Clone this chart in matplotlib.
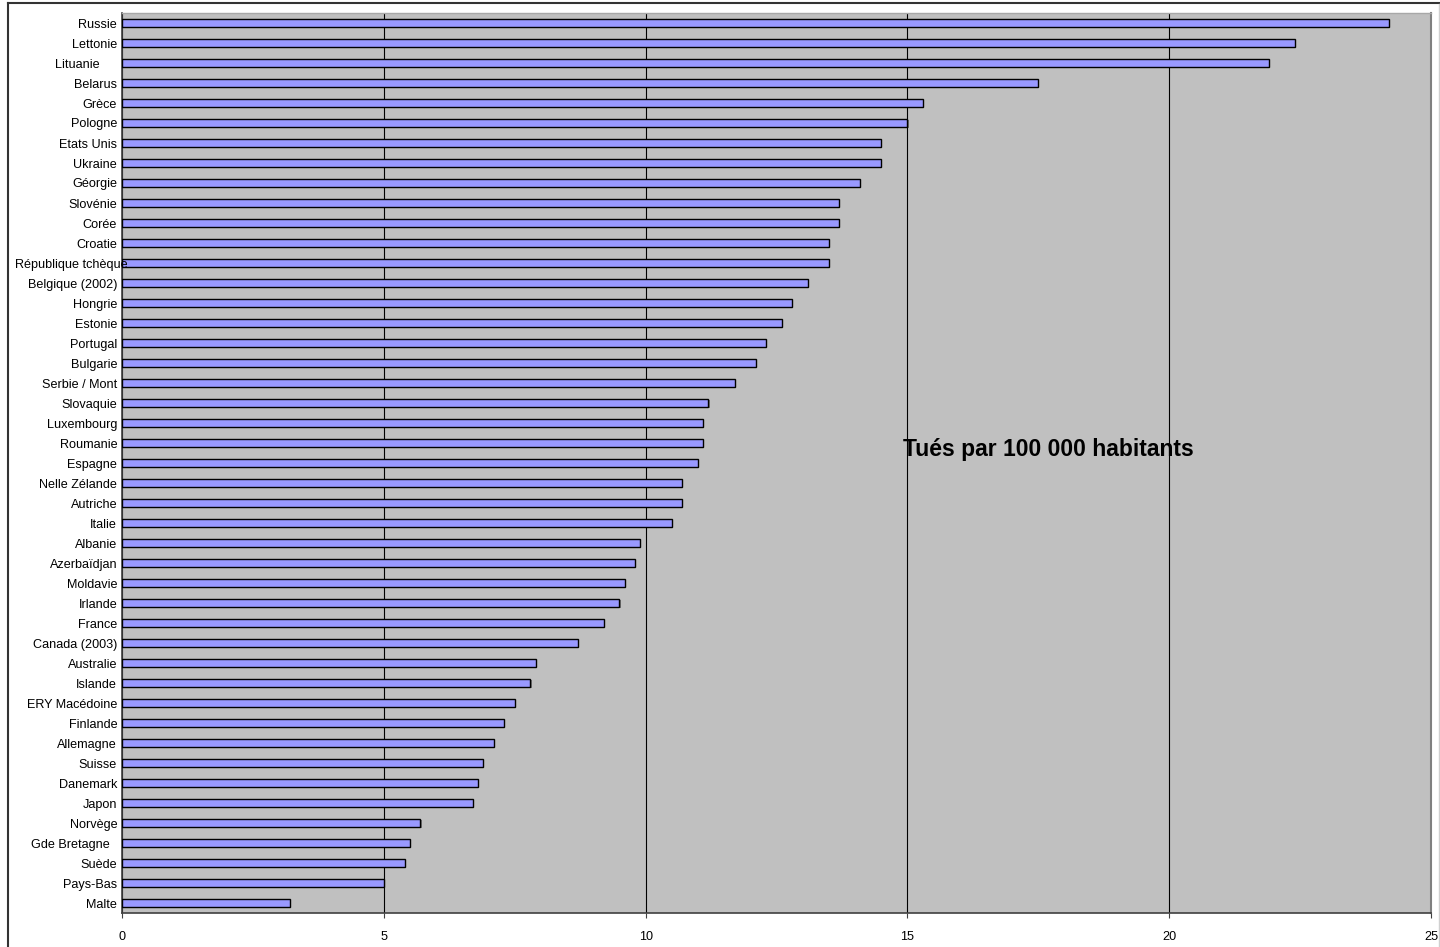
import matplotlib
matplotlib.use("Agg")
import matplotlib.pyplot as plt
import matplotlib.patheffects as pe
from matplotlib.transforms import ScaledTranslation
from matplotlib.lines import Line2D

plt.rcParams['font.family'] = ['Liberation Sans', 'DejaVu Sans']

countries = ["Russie", "Lettonie", "Lituanie     ", "Belarus", "Grèce", "Pologne",
             "Etats Unis", "Ukraine", "Géorgie", "Slovénie", "Corée", "Croatie",
             "République tchèque", "Belgique (2002)", "Hongrie", "Estonie", "Portugal",
             "Bulgarie", "Serbie / Mont", "Slovaquie", "Luxembourg", "Roumanie",
             "Espagne", "Nelle Zélande", "Autriche", "Italie", "Albanie", "Azerbaïdjan",
             "Moldavie", "Irlande", "France", "Canada (2003)", "Australie", "Islande",
             "ERY Macédoine", "Finlande", "Allemagne", "Suisse", "Danemark", "Japon",
             "Norvège", "Gde Bretagne  ", "Suède", "Pays-Bas", "Malte"]
values = [24.2, 22.4, 21.9, 17.5, 15.3, 15.0,
          14.5, 14.5, 14.1, 13.7, 13.7, 13.5,
          13.5, 13.1, 12.8, 12.6, 12.3,
          12.1, 11.7, 11.2, 11.1, 11.1,
          11.0, 10.7, 10.7, 10.5, 9.9, 9.8,
          9.6, 9.5, 9.2, 8.7, 7.9, 7.8,
          7.5, 7.3, 7.1, 6.9, 6.8, 6.7,
          5.7, 5.5, 5.4, 5.0, 3.2]
x_ticks = [0, 5, 10, 15, 20, 25]
annotation = "Tués par 100 000 habitants"

fig = plt.figure(figsize=(14.4, 9.47), dpi=100)
fig.patch.set_facecolor('white')
ax = fig.add_axes([122/1440, 34/947, (1431-122)/1440, (913-13)/947])
ax.set_facecolor('#C0C0C0')

pos = list(range(len(countries)))
bars = ax.barh(pos, values, height=0.4, color='#9999FF', edgecolor='black',
               linewidth=1.0, zorder=3)
for b in bars:
    b.set_path_effects([pe.SimplePatchShadow(offset=(0.8, -0.8), shadow_rgbFace='#303030', alpha=0.5),
                        pe.Normal()])

ax.set_ylim(len(countries) - 0.5, -0.5)
ax.set_xlim(0, 25)
ax.set_xticks(x_ticks)
ax.set_xticklabels([str(t) for t in x_ticks], fontsize=9.1)
ax.set_yticks(pos)
ax.set_yticklabels(countries, fontsize=9.1)

ax.set_axisbelow(True)
ax.xaxis.grid(True, color='black', linewidth=0.8, zorder=1)
ax.yaxis.grid(False)
ax.yaxis.set_zorder(4)

ax.tick_params(axis='y', length=0, pad=3.5)
ax.tick_params(axis='x', direction='out', length=3.6, width=0.8, color='#404040', pad=9)

for s in ['left', 'bottom']:
    ax.spines[s].set_color('#404040')
    ax.spines[s].set_linewidth(1.2)
ax.spines['top'].set_color('#A8A8A8')
ax.spines['top'].set_linewidth(1.0)
ax.spines['right'].set_color('#808080')
ax.spines['right'].set_linewidth(1.5)

# shift the long label to the right as in the reference
for lbl in ax.get_yticklabels():
    if lbl.get_text().startswith("République"):
        lbl.set_transform(lbl.get_transform() + ScaledTranslation(0.10, 0, fig.dpi_scale_trans))

ax.text(14.92, 21.65, annotation, fontsize=16.5, fontweight='bold',
        ha='left', va='baseline', zorder=5)

# outer chart frame
fig.add_artist(Line2D([8/1440, 1.0], [1 - 3/947, 1 - 3/947], transform=fig.transFigure,
                      color='#333333', linewidth=1.5))
fig.add_artist(Line2D([8/1440, 8/1440], [0, 1 - 3/947], transform=fig.transFigure,
                      color='#333333', linewidth=1.5))
fig.add_artist(Line2D([1439/1440, 1439/1440], [0, 1 - 4/947], transform=fig.transFigure,
                      color='#D0D0D0', linewidth=1.0))

fig.savefig("out.png", dpi=100)
